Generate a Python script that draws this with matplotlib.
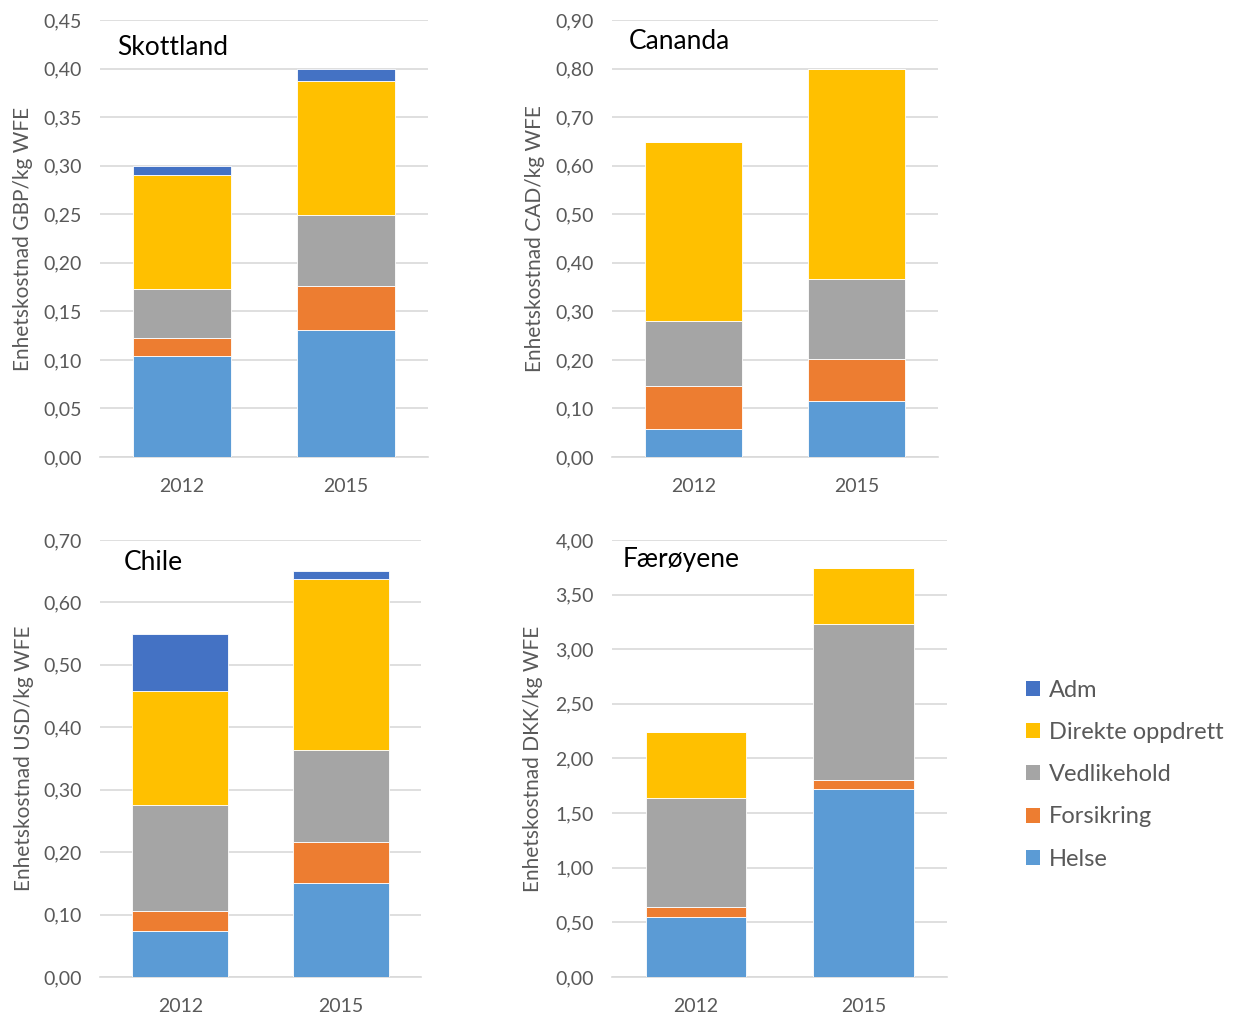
import numpy as np
import matplotlib
matplotlib.use('Agg')
import matplotlib.pyplot as plt
from matplotlib.ticker import FuncFormatter, MultipleLocator
from matplotlib.patches import Patch

plt.rcParams['font.family'] = ['Lato', 'DejaVu Sans']

years = ['2012', '2015']
categories = ['Helse', 'Forsikring', 'Vedlikehold', 'Direkte oppdrett', 'Adm']
colors = ['#5B9BD5', '#ED7D31', '#A5A5A5', '#FFC000', '#4472C4']

# segment values per country, one list per category (2012, 2015)
skottland = {
    'Helse': [0.104, 0.131],
    'Forsikring': [0.019, 0.045],
    'Vedlikehold': [0.050, 0.073],
    'Direkte oppdrett': [0.117, 0.138],
    'Adm': [0.010, 0.013],
}
canada = {
    'Helse': [0.058, 0.115],
    'Forsikring': [0.088, 0.087],
    'Vedlikehold': [0.134, 0.165],
    'Direkte oppdrett': [0.369, 0.432],
    'Adm': [0.0, 0.0],
}
chile = {
    'Helse': [0.074, 0.151],
    'Forsikring': [0.032, 0.065],
    'Vedlikehold': [0.170, 0.148],
    'Direkte oppdrett': [0.182, 0.274],
    'Adm': [0.091, 0.012],
}
faroe = {
    'Helse': [0.55, 1.72],
    'Forsikring': [0.09, 0.08],
    'Vedlikehold': [1.00, 1.43],
    'Direkte oppdrett': [0.60, 0.51],
    'Adm': [0.0, 0.0],
}

panels = [
    # data, title, ylabel, ymax, step, rect, title pos
    (skottland, 'Skottland', 'Enhetskostnad GBP/kg WFE', 0.45, 0.05,
     [0.0805, 0.5493, 0.2639, 0.431], (0.052, 0.937)),
    (canada, 'Cananda', 'Enhetskostnad CAD/kg WFE', 0.90, 0.10,
     [0.4924, 0.5493, 0.2623, 0.431], (0.052, 0.950)),
    (chile, 'Chile', 'Enhetskostnad USD/kg WFE', 0.70, 0.10,
     [0.0805, 0.0365, 0.2582, 0.431], (0.075, 0.948)),
    (faroe, 'Færøyene', 'Enhetskostnad DKK/kg WFE', 4.00, 0.50,
     [0.4924, 0.0365, 0.2695, 0.431], (0.033, 0.955)),
]

fmt = FuncFormatter(lambda v, p: f'{v:.2f}'.replace('.', ','))
txt_col = '#595959'
grid_col = '#D9D9D9'

fig = plt.figure(figsize=(12.43, 10.14), dpi=100)

for data, title, ylab, ymax, step, rect, tpos in panels:
    ax = fig.add_axes(rect)
    x = np.arange(len(years))
    bottom = np.zeros(len(years))
    for cat, col in zip(categories, colors):
        vals = np.array(data[cat])
        ax.bar(x, vals, 0.6, bottom=bottom, color=col, edgecolor='white',
               linewidth=0.6, zorder=3)
        bottom += vals
    ax.set_xlim(-0.5, 1.5)
    ax.set_ylim(0, ymax)
    ax.yaxis.set_major_locator(MultipleLocator(step))
    ax.yaxis.set_major_formatter(fmt)
    ax.set_xticks(x)
    ax.set_xticklabels(years)
    ax.grid(axis='y', color=grid_col, lw=1.2, zorder=0)
    for s in ['top', 'right', 'left']:
        ax.spines[s].set_visible(False)
    ax.spines['bottom'].set_color(grid_col)
    ax.spines['bottom'].set_linewidth(1.2)
    ax.tick_params(axis='both', length=0, labelsize=14, colors=txt_col)
    ax.tick_params(axis='x', pad=15)
    ax.tick_params(axis='y', pad=13)
    ax.set_ylabel(ylab, fontsize=15, color=txt_col)
    ax.yaxis.set_label_coords(-0.205, 0.5)
    ax.text(tpos[0], tpos[1], title, transform=ax.transAxes, fontsize=19,
            color='black', va='center', ha='left')

handles = [Patch(facecolor=c, label=l) for l, c in zip(categories, colors)][::-1]
leg = fig.legend(handles=handles, loc='center left', bbox_to_anchor=(0.808, 0.236),
                 frameon=False, fontsize=17, handlelength=0.6, handleheight=0.6,
                 handletextpad=0.4, labelspacing=0.9)
for t in leg.get_texts():
    t.set_color(txt_col)

fig.savefig('out.png', dpi=100)
